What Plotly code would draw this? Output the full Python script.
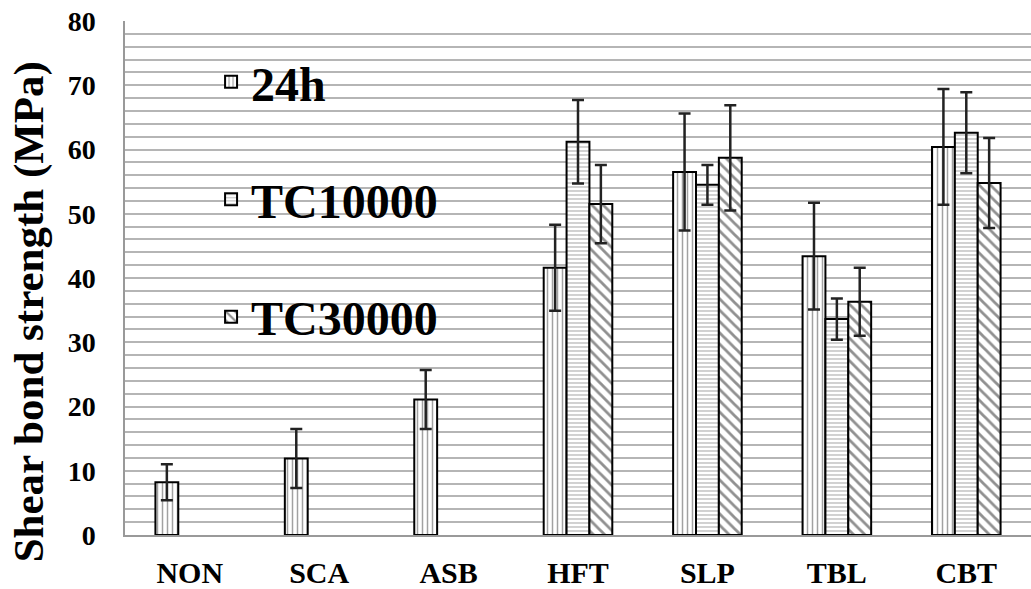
import plotly.graph_objects as go

categories = ["NON", "SCA", "ASB", "HFT", "SLP", "TBL", "CBT"]
series_names = ["24h", "TC10000", "TC30000"]
vals_24h = [8.2, 11.9, 21.1, 41.6, 56.5, 43.4, 60.4]
err_24h = [2.8, 4.6, 4.6, 6.7, 9.1, 8.3, 9.0]
vals_tc10 = [None, None, None, 61.2, 54.5, 33.6, 62.6]
err_tc10 = [None, None, None, 6.5, 3.1, 3.2, 6.3]
vals_tc30 = [None, None, None, 51.5, 58.7, 36.3, 54.8]
err_tc30 = [None, None, None, 6.1, 8.2, 5.3, 7.0]

font_family = "Liberation Serif"
patterns = [
    dict(shape="|", size=5, solidity=0.3, fgcolor="#444444", bgcolor="white"),
    dict(shape="-", size=4, solidity=0.3, fgcolor="#666666", bgcolor="white"),
    dict(shape="\\", size=8, solidity=0.35, fgcolor="#222222", bgcolor="white"),
]

fig = go.Figure()
for i, (name, v, e) in enumerate(zip(series_names,
                                     [vals_24h, vals_tc10, vals_tc30],
                                     [err_24h, err_tc10, err_tc30])):
    fig.add_trace(go.Bar(
        x=categories, y=v, name=name, legendgroup=name,
        marker=dict(color="white", pattern=patterns[i],
                    line=dict(color="black", width=2)),
        error_y=dict(type="data", array=e, visible=True,
                     color="#222222", thickness=2.5, width=6),
    ))

fig.update_layout(
    width=1031, height=589,
    margin=dict(l=125, r=0, t=21, b=54, autoexpand=False),
    paper_bgcolor="white", plot_bgcolor="white",
    barmode="group", bargap=0.47, bargroupgap=0,
    font=dict(family=font_family, color="black"),
    showlegend=True,
    legend=dict(x=0.095, y=0.955, xanchor="left", yanchor="top",
                bgcolor="rgba(0,0,0,0)",
                font=dict(family=font_family, size=48, color="black", weight="bold"),
                tracegroupgap=52, itemwidth=30),
    annotations=[dict(
        text="Shear bond strength (MPa)", textangle=-90,
        xref="paper", yref="paper", x=-0.106, y=0.435,
        xanchor="center", yanchor="middle", showarrow=False,
        font=dict(family=font_family, size=43, weight="bold", color="black"),
    )],
)
fig.update_xaxes(
    showgrid=False, showline=True, linecolor="#999999", linewidth=1.5,
    ticks="", ticklabelstandoff=10, automargin=False,
    tickfont=dict(family=font_family, size=30, weight="bold"),
)
fig.update_yaxes(
    range=[0, 80], dtick=10, tick0=0,
    showgrid=True, gridcolor="#b5b5b5", gridwidth=1.5,
    minor=dict(dtick=2, showgrid=True, gridcolor="#b5b5b5", gridwidth=1.5),
    showline=True, linecolor="#999999", linewidth=1.5,
    ticks="", ticklabelstandoff=22, automargin=False,
    ticklabeloverflow="allow",
    tickfont=dict(family=font_family, size=28, weight="bold"),
    zeroline=False,
)

fig.write_html("out.html",
               config={"displayModeBar": False},
               post_script="document.body.style.margin='0';document.body.style.overflow='hidden';")
